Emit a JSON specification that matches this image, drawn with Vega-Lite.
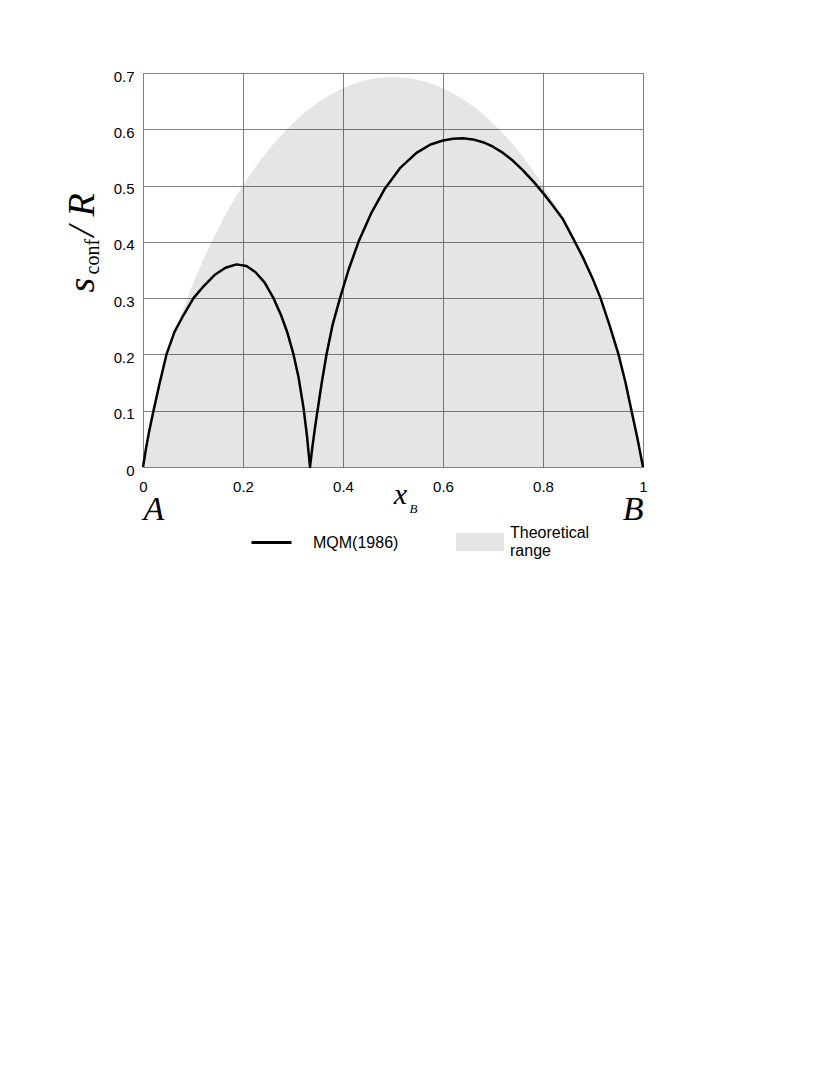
{
  "$schema": "https://vega.github.io/schema/vega-lite/v6.json",
  "width": 500,
  "height": 394,
  "autosize": "none",
  "padding": {"left": 143, "top": 73, "right": 187, "bottom": 608},
  "background": "white",
  "config": {
    "view": {"stroke": "#808080", "strokeWidth": 1},
    "axis": {"labelColor": "#000000", "titleColor": "#000000", "labelFont": "Liberation Sans", "titleFontWeight": "normal"},
    "legend": {"labelColor": "#000000", "labelFont": "Liberation Sans"}
  },
  "datasets": {
    "theory": [
      {"x": 0, "y": 0}, {"x": 0.01, "y": 0.056}, {"x": 0.02, "y": 0.098}, {"x": 0.05, "y": 0.1985},
      {"x": 0.1, "y": 0.3251}, {"x": 0.15, "y": 0.4227}, {"x": 0.2, "y": 0.5004}, {"x": 0.25, "y": 0.5623},
      {"x": 0.3, "y": 0.6109}, {"x": 0.35, "y": 0.6474}, {"x": 0.4, "y": 0.673}, {"x": 0.45, "y": 0.6881},
      {"x": 0.5, "y": 0.6931}, {"x": 0.55, "y": 0.6881}, {"x": 0.6, "y": 0.673}, {"x": 0.65, "y": 0.6474},
      {"x": 0.7, "y": 0.6109}, {"x": 0.75, "y": 0.5623}, {"x": 0.8, "y": 0.5004}, {"x": 0.85, "y": 0.4227},
      {"x": 0.9, "y": 0.3251}, {"x": 0.95, "y": 0.1985}, {"x": 0.98, "y": 0.098}, {"x": 0.99, "y": 0.056},
      {"x": 1, "y": 0}
    ],
    "mqm": [
      {"x": 0, "y": 0}, {"x": 0.006, "y": 0.033}, {"x": 0.012, "y": 0.062}, {"x": 0.021, "y": 0.1},
      {"x": 0.033, "y": 0.148}, {"x": 0.047, "y": 0.2}, {"x": 0.063, "y": 0.24}, {"x": 0.081, "y": 0.27},
      {"x": 0.101, "y": 0.3}, {"x": 0.122, "y": 0.322}, {"x": 0.143, "y": 0.341}, {"x": 0.165, "y": 0.354},
      {"x": 0.187, "y": 0.36}, {"x": 0.207, "y": 0.357}, {"x": 0.225, "y": 0.346}, {"x": 0.243, "y": 0.328},
      {"x": 0.261, "y": 0.3}, {"x": 0.276, "y": 0.27}, {"x": 0.289, "y": 0.238}, {"x": 0.301, "y": 0.2},
      {"x": 0.311, "y": 0.16}, {"x": 0.321, "y": 0.105}, {"x": 0.328, "y": 0.055}, {"x": 0.334, "y": 0},
      {"x": 0.339, "y": 0.037}, {"x": 0.344, "y": 0.07}, {"x": 0.349, "y": 0.1}, {"x": 0.357, "y": 0.147},
      {"x": 0.367, "y": 0.2}, {"x": 0.379, "y": 0.252}, {"x": 0.394, "y": 0.3}, {"x": 0.411, "y": 0.35},
      {"x": 0.431, "y": 0.4}, {"x": 0.456, "y": 0.45}, {"x": 0.484, "y": 0.495}, {"x": 0.515, "y": 0.532},
      {"x": 0.547, "y": 0.558}, {"x": 0.575, "y": 0.573}, {"x": 0.6, "y": 0.58}, {"x": 0.62, "y": 0.583},
      {"x": 0.64, "y": 0.584}, {"x": 0.66, "y": 0.582}, {"x": 0.68, "y": 0.577}, {"x": 0.7, "y": 0.569},
      {"x": 0.72, "y": 0.558}, {"x": 0.74, "y": 0.544}, {"x": 0.76, "y": 0.527}, {"x": 0.78, "y": 0.508},
      {"x": 0.8, "y": 0.487}, {"x": 0.82, "y": 0.464}, {"x": 0.84, "y": 0.44}, {"x": 0.861, "y": 0.405},
      {"x": 0.88, "y": 0.372}, {"x": 0.9, "y": 0.333}, {"x": 0.915, "y": 0.3}, {"x": 0.933, "y": 0.252},
      {"x": 0.951, "y": 0.2}, {"x": 0.965, "y": 0.15}, {"x": 0.977, "y": 0.1}, {"x": 0.989, "y": 0.05},
      {"x": 1, "y": 0}
    ],
    "none": []
  },
  "resolve": {"axis": {"x": "independent", "y": "independent"}},
  "layer": [
    {
      "data": {"name": "theory"},
      "mark": {"type": "area", "fillOpacity": 0.1, "interpolate": "monotone"},
      "encoding": {
        "x": {"field": "x", "type": "quantitative", "scale": {"domain": [0, 1], "nice": false},
          "axis": {"values": [0, 0.2, 0.4, 0.6, 0.8, 1], "format": "~g", "grid": true, "gridColor": "#808080", "gridOpacity": 1,
            "domain": false, "ticks": false, "labelFontSize": 15, "labelPadding": 12, "labelFlush": false,
            "title": "x", "titleFont": "Liberation Serif", "titleFontStyle": "italic", "titleFontSize": 30,
            "titleX": 257, "titleY": 36, "titleAlign": "center", "titleBaseline": "alphabetic"}},
        "y": {"field": "y", "type": "quantitative", "scale": {"domain": [0, 0.7], "nice": false},
          "axis": {"values": [0, 0.1, 0.2, 0.3, 0.4, 0.5, 0.6, 0.7], "format": "~g", "grid": true, "gridColor": "#808080", "gridOpacity": 1,
            "domain": false, "ticks": false, "labelFontSize": 15, "labelPadding": 9, "labelOffset": 3,
            "title": "s", "titleFont": "Liberation Serif", "titleFontStyle": "italic", "titleFontSize": 38,
            "titleAngle": 270, "titleX": -50, "titleY": 219, "titleAlign": "left", "titleBaseline": "alphabetic"}},
        "fill": {"datum": "Theoretical range", "type": "nominal", "scale": {"range": ["#000000"]},
          "legend": {"orient": "none", "legendX": 313, "legendY": 436, "title": null, "padding": 0,
            "symbolType": "M-1,0H1V0.75H-1Z", "symbolSize": 2304, "symbolStrokeWidth": 0, "symbolOpacity": 0.1,
            "labelExpr": "['Theoretical', 'range']", "labelFontSize": 16, "labelOffset": 6}}
      }
    },
    {
      "data": {"name": "mqm"},
      "mark": {"type": "line", "strokeWidth": 2.5, "strokeJoin": "round"},
      "encoding": {
        "x": {"field": "x", "type": "quantitative", "scale": {"domain": [0, 1], "nice": false},
          "axis": {"orient": "bottom", "values": [0, 1], "labelExpr": "datum.value == 0 ? 'A' : 'B'", "grid": false,
            "domain": false, "ticks": false, "labelFont": "Liberation Serif", "labelFontStyle": "italic", "labelFontSize": 34,
            "labelBaseline": "alphabetic", "labelPadding": 52, "labelFlush": true,
            "title": "B", "titleFont": "Liberation Serif", "titleFontStyle": "italic", "titleFontSize": 13,
            "titleX": 266, "titleY": 45, "titleAlign": "left", "titleBaseline": "alphabetic"}},
        "y": {"field": "y", "type": "quantitative", "scale": {"domain": [0, 0.7], "nice": false},
          "axis": {"orient": "left", "grid": false, "labels": false, "ticks": false, "domain": false,
            "title": "conf", "titleFont": "Liberation Serif", "titleFontSize": 20,
            "titleAngle": 270, "titleX": -45, "titleY": 201, "titleAlign": "left", "titleBaseline": "alphabetic"}},
        "stroke": {"datum": "MQM(1986)", "type": "nominal", "scale": {"range": ["#000000"]},
          "legend": {"orient": "none", "legendX": 107, "legendY": 448, "title": null, "padding": 0,
            "symbolSize": 1600, "symbolStrokeWidth": 3, "labelFontSize": 16, "labelOffset": 20}}
      }
    },
    {
      "data": {"name": "none"},
      "mark": "point",
      "encoding": {
        "x": {"field": "x", "type": "quantitative", "scale": {"domain": [0, 1], "nice": false}, "axis": null},
        "y": {"field": "y", "type": "quantitative", "scale": {"domain": [0, 0.7], "nice": false},
          "axis": {"orient": "left", "grid": false, "labels": false, "ticks": false, "domain": false,
            "title": "/ R", "titleFont": "Liberation Serif", "titleFontStyle": "italic", "titleFontSize": 38,
            "titleAngle": 270, "titleX": -50, "titleY": 163, "titleAlign": "left", "titleBaseline": "alphabetic"}}
      }
    }
  ]
}
